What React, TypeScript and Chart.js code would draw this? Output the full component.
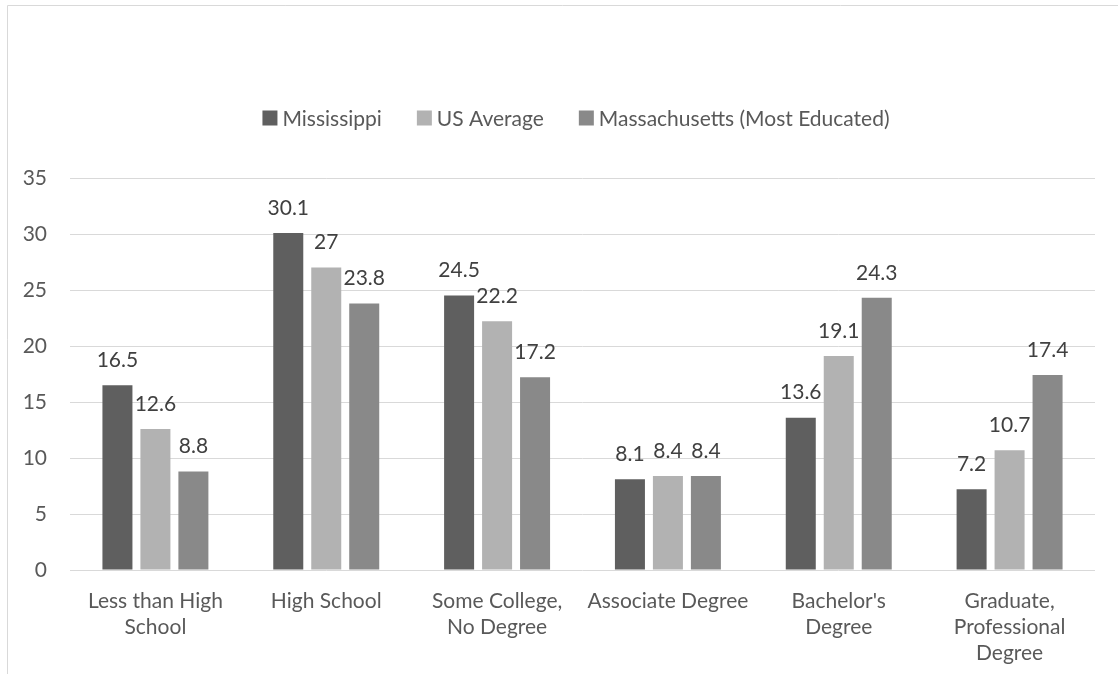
import React, { useEffect, useRef } from "react";
import { Chart, registerables } from "chart.js";

Chart.register(...registerables);

const categories: string[][] = [
  ["Less than High", "School"],
  ["High School"],
  ["Some College,", "No Degree"],
  ["Associate Degree"],
  ["Bachelor's", "Degree"],
  ["Graduate,", "Professional", "Degree"],
];

const mississippi = [16.5, 30.1, 24.5, 8.1, 13.6, 7.2];
const usAverage = [12.6, 27, 22.2, 8.4, 19.1, 10.7];
const massachusetts = [8.8, 23.8, 17.2, 8.4, 24.3, 17.4];

const seriesNames = ["Mississippi", "US Average", "Massachusetts (Most Educated)"];
const seriesColors = ["#5f5f5f", "#b2b2b2", "#898989"];

const yTicks = [0, 5, 10, 15, 20, 25, 30, 35];

const FONT = "Lato, 'Open Sans', sans-serif";
const SIZE = 21;
const TEXT = "#595959";

// light frame around the chart
const framePlugin = {
  id: "frame",
  beforeDraw(chart: any) {
    const { ctx, width, height } = chart;
    ctx.save();
    ctx.strokeStyle = "#d9d9d9";
    ctx.lineWidth = 1;
    ctx.beginPath();
    ctx.moveTo(7.5, height);
    ctx.lineTo(7.5, 5.5);
    ctx.lineTo(width, 5.5);
    ctx.stroke();
    ctx.restore();
  },
};

// legend row drawn above the plot
const legendRowPlugin = {
  id: "legendRow",
  afterDraw(chart: any) {
    const { ctx } = chart;
    const box = 15;
    const gap = 5;
    const spacing = 35;
    const centerX = 576;
    const centerY = 118;
    ctx.save();
    ctx.font = `${SIZE}px ${FONT}`;
    ctx.textBaseline = "middle";
    ctx.textAlign = "left";
    const items = chart.data.datasets.map((ds: any) => ({
      label: ds.label,
      color: ds.backgroundColor,
      w: ctx.measureText(ds.label).width,
    }));
    const total =
      items.reduce((s: number, it: any) => s + box + gap + it.w, 0) +
      spacing * (items.length - 1);
    let x = centerX - total / 2;
    for (const it of items) {
      ctx.fillStyle = it.color;
      ctx.fillRect(x, centerY - box / 2, box, box);
      ctx.fillStyle = TEXT;
      ctx.fillText(it.label, x + box + gap, centerY + 1);
      x += box + gap + it.w + spacing;
    }
    ctx.restore();
  },
};

// value labels above each bar
const valueLabelPlugin = {
  id: "valueLabels",
  afterDatasetsDraw(chart: any) {
    const { ctx } = chart;
    ctx.save();
    ctx.font = `${SIZE}px ${FONT}`;
    ctx.fillStyle = "#404040";
    ctx.textAlign = "center";
    ctx.textBaseline = "middle";
    chart.data.datasets.forEach((ds: any, i: number) => {
      const meta = chart.getDatasetMeta(i);
      meta.data.forEach((bar: any, j: number) => {
        ctx.fillText(String(ds.data[j]), bar.x, bar.y - 25);
      });
    });
    ctx.restore();
  },
};

export default function App() {
  const canvasRef = useRef<HTMLCanvasElement | null>(null);

  useEffect(() => {
    if (!canvasRef.current) return;
    const chart = new Chart(canvasRef.current, {
      type: "bar",
      data: {
        labels: categories,
        datasets: [
          { label: seriesNames[0], data: mississippi, backgroundColor: seriesColors[0] },
          { label: seriesNames[1], data: usAverage, backgroundColor: seriesColors[1] },
          { label: seriesNames[2], data: massachusetts, backgroundColor: seriesColors[2] },
        ],
      },
      options: {
        animation: false,
        responsive: false,
        maintainAspectRatio: false,
        datasets: {
          bar: { categoryPercentage: 0.667, barPercentage: 0.79 },
        },
        layout: { padding: { top: 178, right: 23, bottom: 0, left: 0 } },
        plugins: {
          legend: { display: false },
          tooltip: { enabled: false },
        },
        scales: {
          x: {
            grid: { display: false, drawTicks: false },
            border: { display: false },
            ticks: {
              color: TEXT,
              font: { family: FONT, size: SIZE, lineHeight: 26 / SIZE },
              padding: 18,
              maxRotation: 0,
              autoSkip: false,
            },
            afterFit(scale: any) {
              scale.height = 104;
            },
          },
          y: {
            min: 0,
            max: 35,
            afterBuildTicks(scale: any) {
              scale.ticks = yTicks.map((v) => ({ value: v }));
            },
            grid: { color: "#d9d9d9", lineWidth: 1, drawTicks: false },
            border: { display: false },
            ticks: {
              color: TEXT,
              font: { family: FONT, size: SIZE },
              padding: 23,
            },
            afterFit(scale: any) {
              scale.width = 70;
            },
          },
        },
      },
      plugins: [framePlugin, valueLabelPlugin, legendRowPlugin],
    });
    return () => chart.destroy();
  }, []);

  return (
    <div style={{ position: "absolute", left: 0, top: 0, width: 1118, height: 674, background: "#fff" }}>
      <canvas ref={canvasRef} width={1118} height={674} />
    </div>
  );
}
